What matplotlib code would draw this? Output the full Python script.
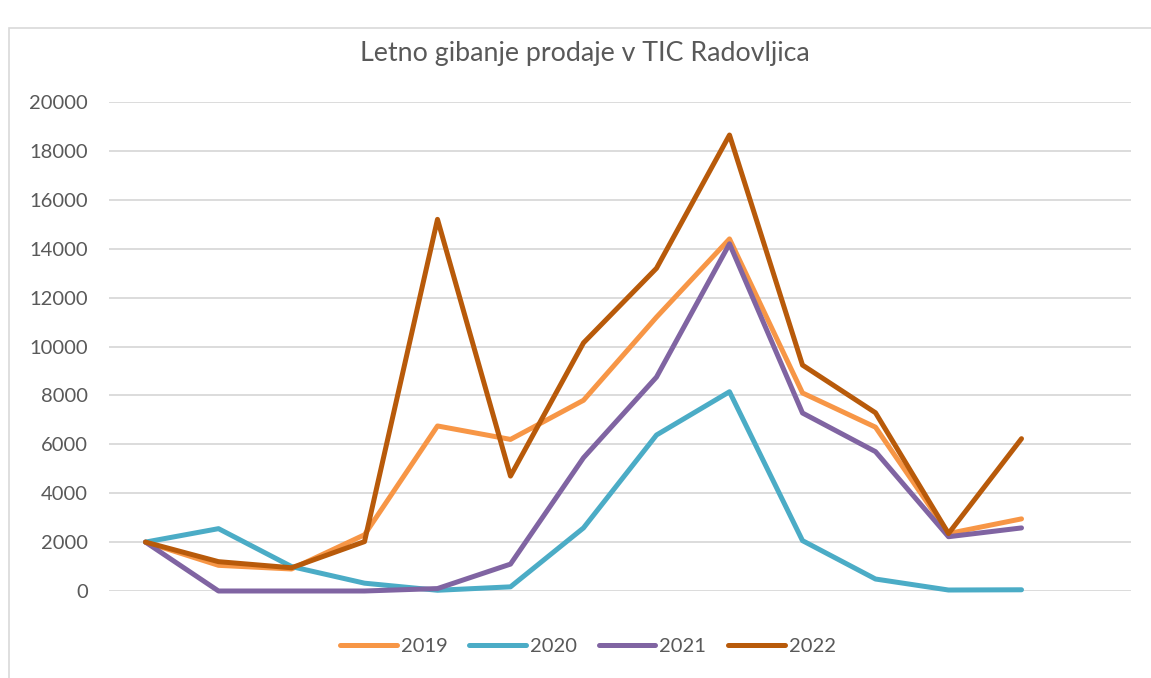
import matplotlib.pyplot as plt
from matplotlib.patches import Rectangle

plt.rcParams['font.family'] = ['Lato', 'DejaVu Sans']

# 13 data points per year, the 14th category slot is empty
x = list(range(13))
series = ['2019', '2020', '2021', '2022']
v2019 = [2000, 1050, 900, 2300, 6750, 6200, 7800, 11200, 14400, 8100, 6700, 2350, 2950]
v2020 = [2000, 2550, 1000, 320, 30, 170, 2580, 6380, 8150, 2060, 490, 40, 50]
v2021 = [2000, 0, 0, 0, 100, 1100, 5450, 8750, 14200, 7280, 5700, 2220, 2580]
v2022 = [2000, 1200, 950, 2020, 15200, 4700, 10150, 13200, 18650, 9240, 7290, 2350, 6230]
colors = ['#F79646', '#4BACC6', '#8064A2', '#B85A0A']

W, H = 1151, 678
fig = plt.figure(figsize=(W / 100, H / 100), dpi=100)

# chart-area border (cropped at right and bottom)
fig.patches.append(Rectangle((8.5 / W, -0.1), 1.2, 1 - 28.5 / H + 0.1,
                             transform=fig.transFigure, fill=False,
                             edgecolor='#D9D9D9', linewidth=1.2))

ax = fig.add_axes([109 / W, 1 - 591 / H, (1131 - 109) / W, (591 - 102) / H])

for vals, name, c in zip([v2019, v2020, v2021, v2022], series, colors):
    ax.plot(x, vals, color=c, linewidth=3.6, label=name,
            solid_capstyle='round', solid_joinstyle='round', clip_on=False, zorder=3)

ax.set_xlim(-0.5, 13.5)
ax.set_ylim(0, 20000)
ax.set_yticks(range(0, 20001, 2000))
ax.set_xticks([])
ax.tick_params(axis='y', length=0, pad=15, labelsize=14.5, labelcolor='#595959')
ax.grid(axis='y', color='#D9D9D9', linewidth=1.3)
ax.set_axisbelow(True)
for s in ax.spines.values():
    s.set_visible(False)

fig.text(585 / W, 1 - 54 / H, 'Letno gibanje prodaje v TIC Radovljica',
         ha='center', va='center', fontsize=19.3, color='#595959')

leg = fig.legend(loc='center', bbox_to_anchor=(588 / W, 1 - 646 / H), ncol=4,
                 frameon=False, fontsize=14.5, handlelength=2.8,
                 handletextpad=0.2, columnspacing=1.1)
for t in leg.get_texts():
    t.set_color('#595959')

fig.savefig('out.png', dpi=100)
